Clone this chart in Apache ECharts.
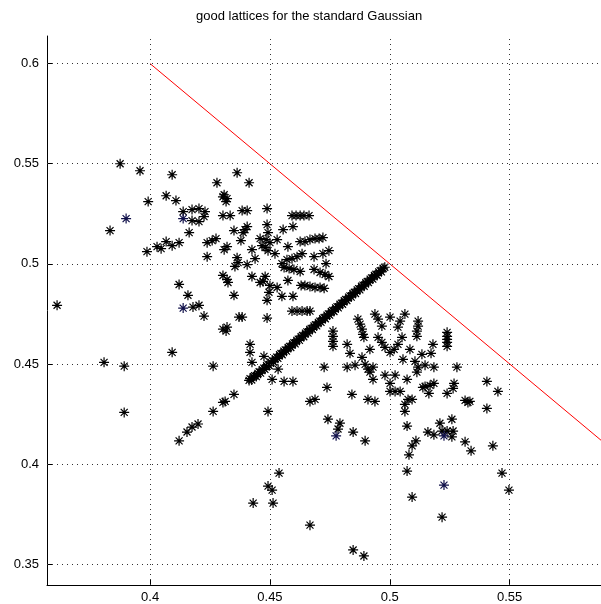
<!DOCTYPE html>
<html>
<head>
<meta charset="utf-8">
<script src="https://cdn.jsdelivr.net/npm/echarts@6/dist/echarts.min.js"></script>
<style>
html,body{margin:0;padding:0;background:#fff;}
#main{width:601px;height:604px;}
</style>
</head>
<body>
<div id="main"></div>
<script>
// axis ranges and ticks
var xTicks = [0.4, 0.45, 0.5, 0.55];
var yTicks = [0.35, 0.4, 0.45, 0.5, 0.55, 0.6];
var xRange = [0.357, 0.5881];
var yRange = [0.3396, 0.6138];

// red boundary line x + y = 1
var redLineX = [0.4, 0.6];
var redLineY = [0.6, 0.4];

// black stars, grouped by region
var upperLeft = [
  [0.3875,0.5500],[0.3958,0.5465],[0.4092,0.5445],[0.4279,0.5405],[0.3992,0.5311],
  [0.4067,0.5340],[0.4108,0.5316],[0.3833,0.5166],[0.4138,0.5261],[0.4175,0.5271],
  [0.4204,0.5276],[0.4229,0.5261],[0.4225,0.5236],[0.4175,0.5216],[0.4204,0.5211],
  [0.4163,0.5156],[0.3987,0.5061],[0.4029,0.5086],[0.4046,0.5076],[0.4067,0.5111],
  [0.4092,0.5091],[0.4121,0.5106],[0.4238,0.5106],[0.4259,0.5116],[0.4275,0.5126],
  [0.4238,0.5036],[0.4121,0.4897],[0.4363,0.5455],[0.4413,0.5405],[0.4304,0.5335],
  [0.4321,0.5326],[0.4317,0.5311],[0.4309,0.5345],[0.4384,0.5266],[0.4405,0.5266],
  [0.4304,0.5241],[0.4334,0.5241],[0.4405,0.5186],[0.4396,0.5171],[0.4388,0.5156],
  [0.4350,0.5166],[0.4379,0.5116],[0.4321,0.5086],[0.4309,0.5071],[0.4425,0.5071],
  [0.4363,0.5031],[0.4367,0.5006],[0.4438,0.5026],[0.4405,0.4996],[0.4354,0.4987],
  [0.4304,0.4942],[0.4321,0.4922],[0.4325,0.4907],[0.4425,0.4937],[0.4350,0.4843],
  [0.4158,0.4843],[0.4179,0.4784],[0.4204,0.4793],[0.4225,0.4739],[0.4304,0.4674],
  [0.4321,0.4684],[0.4317,0.4664],[0.4371,0.4734]
];
var upperMid = [
  [0.4488,0.5276],[0.4592,0.5241],[0.4609,0.5241],[0.4626,0.5241],[0.4642,0.5241],
  [0.4663,0.5241],[0.4488,0.5196],[0.4555,0.5171],[0.4596,0.5186],[0.4492,0.5156],
  [0.4459,0.5126],[0.4484,0.5121],[0.4500,0.5106],[0.4530,0.5121],[0.4467,0.5091],
  [0.4480,0.5081],[0.4492,0.5066],[0.4521,0.5051],[0.4575,0.5086],[0.4626,0.5111],
  [0.4646,0.5111],[0.4667,0.5121],[0.4688,0.5126],[0.4705,0.5126],[0.4721,0.5131],
  [0.4746,0.5066],[0.4721,0.5051],[0.4684,0.5036],[0.4550,0.5001],[0.4571,0.5021],
  [0.4592,0.5026],[0.4613,0.5036],[0.4634,0.5051],[0.4559,0.4982],[0.4580,0.4977],
  [0.4600,0.4972],[0.4626,0.4962],[0.4734,0.5001],[0.4684,0.4972],[0.4709,0.4957],
  [0.4730,0.4947],[0.4746,0.4937],[0.4480,0.4937],[0.4471,0.4912],[0.4459,0.4907],
  [0.4575,0.4917],[0.4500,0.4892],[0.4530,0.4882],[0.4630,0.4892],[0.4646,0.4892],
  [0.4667,0.4887],[0.4688,0.4882],[0.4709,0.4882],[0.4726,0.4878],[0.4496,0.4858],
  [0.4488,0.4818],[0.4550,0.4838],[0.4596,0.4838],[0.4592,0.4764],[0.4613,0.4764],
  [0.4634,0.4764],[0.4655,0.4764],[0.4667,0.4764],[0.4384,0.4734],[0.4488,0.4729]
];
var diagonal = [
  [0.4413,0.4418],[0.4417,0.4427],[0.4424,0.4420],[0.4431,0.4436],[0.4436,0.4441],
  [0.4443,0.4437],[0.4450,0.4453],[0.4455,0.4461],[0.4461,0.4454],[0.4468,0.4472],
  [0.4474,0.4479],[0.4479,0.4473],[0.4486,0.4491],[0.4492,0.4498],[0.4497,0.4491],
  [0.4504,0.4509],[0.4510,0.4516],[0.4515,0.4510],[0.4522,0.4527],[0.4528,0.4534],
  [0.4533,0.4528],[0.4540,0.4546],[0.4546,0.4552],[0.4551,0.4546],[0.4558,0.4564],
  [0.4564,0.4570],[0.4569,0.4564],[0.4576,0.4582],[0.4582,0.4588],[0.4587,0.4582],
  [0.4594,0.4600],[0.4600,0.4606],[0.4605,0.4600],[0.4612,0.4618],[0.4618,0.4624],
  [0.4623,0.4618],[0.4630,0.4636],[0.4636,0.4642],[0.4641,0.4636],[0.4648,0.4654],
  [0.4654,0.4660],[0.4659,0.4654],[0.4666,0.4672],[0.4672,0.4678],[0.4677,0.4672],
  [0.4684,0.4690],[0.4690,0.4696],[0.4695,0.4690],[0.4702,0.4708],[0.4708,0.4714],
  [0.4713,0.4708],[0.4720,0.4726],[0.4726,0.4732],[0.4731,0.4726],[0.4738,0.4744],
  [0.4744,0.4750],[0.4749,0.4744],[0.4756,0.4762],[0.4762,0.4768],[0.4767,0.4762],
  [0.4774,0.4780],[0.4780,0.4786],[0.4785,0.4780],[0.4792,0.4798],[0.4798,0.4804],
  [0.4803,0.4798],[0.4810,0.4816],[0.4816,0.4822],[0.4821,0.4816],[0.4828,0.4834],
  [0.4834,0.4840],[0.4839,0.4834],[0.4846,0.4852],[0.4852,0.4858],[0.4857,0.4852],
  [0.4864,0.4870],[0.4870,0.4876],[0.4875,0.4870],[0.4882,0.4888],[0.4888,0.4894],
  [0.4893,0.4888],[0.4900,0.4906],[0.4906,0.4912],[0.4911,0.4906],[0.4918,0.4924],
  [0.4924,0.4930],[0.4929,0.4924],[0.4936,0.4942],[0.4942,0.4948],[0.4947,0.4942],
  [0.4954,0.4960],[0.4960,0.4966],[0.4965,0.4960],[0.4972,0.4978],[0.4979,0.4983]
];
var midLower = [
  [0.4763,0.4664],[0.4763,0.4638],[0.4763,0.4613],[0.4763,0.4588],[0.4822,0.4598],
  [0.4834,0.4553],[0.4417,0.4598],[0.4417,0.4558],[0.4425,0.4508],[0.4475,0.4538],
  [0.4534,0.4474],[0.4509,0.4423],[0.4559,0.4413],[0.4596,0.4413],[0.4726,0.4484],
  [0.4822,0.4484],[0.4855,0.4494],[0.4738,0.4383],[0.4842,0.4348],[0.4667,0.4313],
  [0.4688,0.4323],[0.4492,0.4263],[0.4742,0.4224],[0.4792,0.4204],[0.4784,0.4175],
  [0.4847,0.4160],[0.4897,0.4116]
];
var lowerLeft = [
  [0.3612,0.4793],[0.4092,0.4558],[0.3808,0.4508],[0.3892,0.4489],[0.4263,0.4489],
  [0.4350,0.4348],[0.4304,0.4308],[0.4313,0.4313],[0.4263,0.4263],[0.3892,0.4258],
  [0.4200,0.4200],[0.4175,0.4185],[0.4121,0.4116],[0.4154,0.4160],[0.4538,0.3955],
  [0.4492,0.3890],[0.4509,0.3870],[0.4430,0.3805],[0.4513,0.3805],[0.4667,0.3695],
  [0.4847,0.3571],[0.4892,0.3541]
];
var rightCluster = [
  [0.4867,0.4724],[0.4876,0.4699],[0.4884,0.4674],[0.4888,0.4648],[0.4892,0.4633],
  [0.4938,0.4749],[0.4951,0.4724],[0.4967,0.4689],[0.5001,0.4734],[0.5063,0.4749],
  [0.5043,0.4714],[0.5034,0.4684],[0.4951,0.4633],[0.4967,0.4608],[0.4980,0.4583],
  [0.5001,0.4558],[0.5018,0.4573],[0.5034,0.4598],[0.5051,0.4633],[0.4917,0.4573],
  [0.5084,0.4573],[0.5118,0.4714],[0.5118,0.4689],[0.5113,0.4664],[0.5113,0.4638],
  [0.5055,0.4523],[0.4884,0.4533],[0.4897,0.4498],[0.4909,0.4474],[0.4930,0.4484],
  [0.4917,0.4459],[0.4930,0.4423],[0.4980,0.4444],[0.5022,0.4444],[0.5072,0.4423],
  [0.5001,0.4403],[0.5001,0.4363],[0.5022,0.4363],[0.5043,0.4363],[0.5076,0.4323],
  [0.5093,0.4323],[0.5063,0.4298],[0.4909,0.4323],[0.4938,0.4313],[0.5063,0.4263],
  [0.5072,0.4190],[0.5105,0.4513],[0.5118,0.4484],[0.5113,0.4459],[0.5138,0.4383],
  [0.5239,0.4658],[0.5239,0.4638],[0.5239,0.4623],[0.5239,0.4608],[0.5239,0.4588],
  [0.5180,0.4598],[0.5172,0.4553],[0.5134,0.4548],[0.5147,0.4494],[0.5184,0.4484],
  [0.5280,0.4484],[0.5405,0.4413],[0.5451,0.4363],[0.5147,0.4388],[0.5168,0.4393],
  [0.5184,0.4403],[0.5163,0.4353],[0.5268,0.4403],[0.5264,0.4378],[0.5239,0.4353],
  [0.5314,0.4318],[0.5334,0.4313],[0.5326,0.4308],[0.5405,0.4278],[0.5209,0.4204],
  [0.5259,0.4224],[0.5218,0.4165],[0.5239,0.4165],[0.5264,0.4165],[0.5109,0.4116],
  [0.5093,0.4091],[0.5080,0.4046],[0.5159,0.4160],[0.5184,0.4146],[0.5259,0.4136],
  [0.5314,0.4111],[0.5339,0.4066],[0.5430,0.4091],[0.5072,0.3965],[0.5093,0.3835],
  [0.5218,0.3735],[0.5468,0.3955],[0.5497,0.3870]
];
// dark blue stars
var bluePoints = [
  [0.3900,0.5226],[0.4138,0.5226],[0.4138,0.4779],[0.4776,0.4141],[0.5226,0.4141],[0.5226,0.3895]
];

var starPath = 'path://M0,-10 L0,10 M-10,0 L10,0 M-7,-7 L7,7 M-7,7 L7,-7';
var font = 'Liberation Sans, Arial, Helvetica, sans-serif';

var tickLabel = function(v){
  return String(+v.toFixed(2));
};

var starSeries = function(data, color){
  return {
    type: 'scatter',
    data: data,
    symbol: starPath,
    symbolSize: 10,
    itemStyle: {color: 'transparent', borderColor: color, borderWidth: 1.2, opacity: 1},
    z: 3,
    silent: true
  };
};

var gridLines = function(){
  var d = [];
  for (var i = 0; i < xTicks.length; i++) d.push({xAxis: xTicks[i]});
  for (var j = 0; j < yTicks.length; j++) d.push({yAxis: yTicks[j]});
  return d;
};

var option = function(){
  var blacks = [].concat(upperLeft, upperMid, diagonal, midLower, lowerLeft, rightCluster);
  var lineData = [];
  for (var i = 0; i < redLineX.length; i++) lineData.push([redLineX[i], redLineY[i]]);
  return {
    animation: false,
    title: {
      text: 'good lattices for the standard Gaussian',
      left: 191, top: 5,
      textStyle: {fontFamily: font, fontSize: 13, fontWeight: 'normal', color: '#000'}
    },
    grid: {left: 47, right: 0, top: 36, bottom: 18},
    xAxis: {
      type: 'value', min: xRange[0], max: xRange[1],
      axisLine: {onZero: false, lineStyle: {color: '#000', width: 1}},
      axisTick: {inside: true, length: 5, customValues: xTicks, lineStyle: {color: '#000'}},
      axisLabel: {customValues: xTicks, formatter: tickLabel, color: '#000', fontFamily: font, fontSize: 13, margin: 6},
      splitLine: {show: false}
    },
    yAxis: {
      type: 'value', min: yRange[0], max: yRange[1],
      axisLine: {onZero: false, lineStyle: {color: '#000', width: 1}},
      axisTick: {inside: true, length: 5, customValues: yTicks, lineStyle: {color: '#000'}},
      axisLabel: {customValues: yTicks, formatter: tickLabel, color: '#000', fontFamily: font, fontSize: 13, margin: 8},
      splitLine: {show: false}
    },
    series: [
      {
        type: 'line', data: [], silent: true, z: 1,
        markLine: {
          silent: true, symbol: ['none', 'none'], label: {show: false}, animation: false,
          lineStyle: {color: '#333', width: 1, type: [1, 4]},
          emphasis: {disabled: true},
          data: gridLines()
        }
      },
      starSeries(blacks, '#000'),
      starSeries(bluePoints, '#10104a'),
      {
        type: 'line', data: lineData, symbol: 'none', silent: true, z: 4,
        lineStyle: {color: '#ff0000', width: 1}
      }
    ]
  };
};

echarts.init(document.getElementById('main')).setOption(option());
</script>
</body>
</html>
